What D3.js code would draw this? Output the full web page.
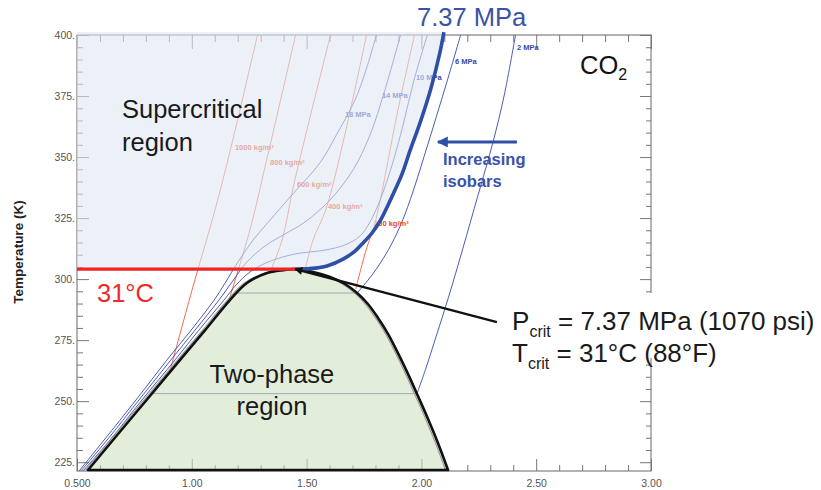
<!DOCTYPE html>
<html>
<head>
<meta charset="utf-8">
<script src="https://cdn.jsdelivr.net/npm/d3@7"></script>
<style>
  html, body { margin: 0; padding: 0; background: #fff; }
  svg { display: block; font-family: "Liberation Sans", Arial, sans-serif; }
</style>
</head>
<body>
<svg id="chart" width="821" height="490"></svg>
<script>
// CO2 temperature–entropy diagram: entropy s (kJ/kg·K) on x, temperature T (K) on y

// ---- axis ticks ----
const xTicksMajor = [0.5, 1.0, 1.5, 2.0, 2.5, 3.0];
const xTickLabels = ["0.500", "1.00", "1.50", "2.00", "2.50", "3.00"];
const yTicksMajor = [225, 250, 275, 300, 325, 350, 375, 400];
const yTickLabels = ["225.", "250.", "275.", "300.", "325.", "350.", "375.", "400."];

// ---- critical point [s, T] ----
const critPoint = [1.45, 304.1];

// ---- saturation dome [s, T] ----
const domeLiquid = [[0.548, 221.8], [0.657, 234.1], [0.803, 250.5], [0.949, 266.9], [1.058, 279.1],
                    [1.166, 291.4], [1.240, 298.4], [1.328, 302.5], [1.397, 303.7]];
const domeVapor = [[1.528, 302.9], [1.602, 300.9], [1.667, 298.0], [1.720, 294.3], [1.767, 289.8],
                   [1.811, 284.1], [1.855, 277.5], [1.898, 269.7], [1.942, 261.1], [1.985, 252.1],
                   [2.029, 242.7], [2.072, 232.9], [2.116, 221.8]];

// ---- isobars [s, T] ----
const isobar737 = [[1.45, 304.1], [1.515, 304.3], [1.589, 305.4], [1.659, 308.2], [1.711, 311.5],
                   [1.746, 314.8], [1.785, 318.9], [1.820, 323.8], [1.855, 330.4], [1.885, 336.5],
                   [1.916, 343.1], [1.950, 352.5], [1.994, 364.0], [2.042, 378.3], [2.081, 393.0],
                   [2.098, 401.2]];
const isobar2TwoPhase = [[0.824, 253.1], [1.981, 253.1]];
const isobar2 = [[1.981, 253.1], [2.020, 263.6], [2.059, 275.0], [2.098, 286.5], [2.138, 298.8],
                 [2.181, 312.7], [2.247, 334.5], [2.312, 356.2], [2.360, 375.0], [2.410, 400]];
const isobar6TwoPhase = [[1.197, 294.3], [1.720, 294.3]];
const isobar6 = [[1.720, 294.3], [1.750, 297.6], [1.785, 301.7], [1.824, 307.0], [1.868, 314.0],
                 [1.915, 323.4], [1.963, 335.7], [2.007, 348.8], [2.050, 361.9], [2.107, 379.5],
                 [2.171, 400]];
const isobar10 = [[2.026, 400], [1.968, 381.6], [1.920, 363.1], [1.872, 346.7], [1.820, 332.4],
                  [1.776, 323.4], [1.733, 317.7], [1.667, 314.0], [1.580, 311.9], [1.450, 310.3],
                  [1.332, 307.0], [1.253, 302.9], [1.193, 297.6], [1.140, 291.4], [1.031, 279.1],
                  [0.927, 266.9], [0.783, 250.5], [0.644, 234.1], [0.526, 221.4]];
const isobar14 = [[1.909, 400], [1.841, 377.5], [1.776, 359.0], [1.702, 344.7], [1.602, 332.4],
                  [1.493, 323.4], [1.406, 318.5], [1.319, 313.6], [1.240, 307.0], [1.175, 298.8],
                  [1.118, 291.4], [1.014, 279.1], [0.909, 266.9], [0.770, 250.5], [0.631, 234.1],
                  [0.517, 221.4]];
const isobar18 = [[1.804, 400], [1.759, 385.7], [1.711, 373.4], [1.637, 360.3], [1.558, 347.6],
                  [1.436, 334.5], [1.341, 324.2], [1.267, 316.0], [1.201, 307.0], [1.145, 298.4],
                  [1.097, 291.4], [0.997, 279.1], [0.892, 266.9], [0.757, 250.5], [0.618, 234.1],
                  [0.509, 221.4]];
const isobarLabels = ["2 MPa", "6 MPa", "10 MPa", "14 MPa", "18 MPa"];
const isobarLabelAt = [[2.416, 393.9], [2.146, 388.1], [1.976, 381.6], [1.828, 374.2], [1.667, 366.4]];

// ---- isochores [s, T] ----
const isochore1000 = [[1.286, 400], [1.171, 354.1], [1.101, 328.3], [1.001, 295.5], [0.904, 262.0]];
const isochore800 = [[1.452, 400], [1.323, 347.6], [1.253, 320.1], [1.162, 291.4]];
const isochore600 = [[1.604, 400], [1.445, 339.0], [1.393, 316.0], [1.341, 302.9]];
const isochore400 = [[1.761, 400], [1.589, 330.0], [1.528, 316.0], [1.493, 303.7]];
const isochore200 = [[1.970, 400], [1.898, 369.3], [1.798, 323.0], [1.759, 311.9], [1.714, 296.0]];
const isochoreLabels = ["1000 kg/m³", "800 kg/m³", "600 kg/m³", "400 kg/m³", "200 kg/m³"];
const isochoreLabelAt = [[1.188, 352.9], [1.341, 346.7], [1.458, 337.7], [1.593, 328.7], [1.794, 321.8]];

// ---- annotation anchors [s, T] ----
const pointerStart = [2.329, 282.4];
const isobarArrow = [[2.416, 356.2], [2.072, 356.2]];

// ================= drawing =================
const svg = d3.select("#chart");
const sMin = 0.5, sMax = 3.0, tMin = 221.4, tMax = 400;
const x = d3.scaleLinear().domain([sMin, sMax]).range([77, 651]);
const y = d3.scaleLinear().domain([tMin, tMax]).range([471, 35]);

const smooth = d3.line().x(d => x(d[0])).y(d => y(d[1])).curve(d3.curveCatmullRom.alpha(0.5));
const straight = d3.line().x(d => x(d[0])).y(d => y(d[1]));

const defs = svg.append("defs");
defs.append("marker").attr("id", "headBlack")
  .attr("viewBox", "0 0 10 10").attr("refX", 9).attr("refY", 5)
  .attr("markerWidth", 11).attr("markerHeight", 8)
  .attr("markerUnits", "userSpaceOnUse").attr("orient", "auto")
  .append("path").attr("d", "M0,0L10,5L0,10z").attr("fill", "#111");
defs.append("marker").attr("id", "headBlue")
  .attr("viewBox", "0 0 10 10").attr("refX", 9).attr("refY", 5)
  .attr("markerWidth", 13).attr("markerHeight", 11)
  .attr("markerUnits", "userSpaceOnUse").attr("orient", "auto")
  .append("path").attr("d", "M0,0L10,5L0,10z").attr("fill", "#2f4fa6");

// ---- frame and ticks ----
svg.append("rect")
  .attr("x", x(sMin)).attr("y", y(tMax))
  .attr("width", x(sMax) - x(sMin)).attr("height", y(tMin) - y(tMax))
  .attr("fill", "none").attr("stroke", "#666").attr("stroke-width", 1);

const xMinor = d3.range(6, 30).filter(i => i % 5 !== 0).map(i => i / 10);
const yMinor = d3.range(225, 401, 5).filter(v => v % 25 !== 0);

function styleAxis(g) {
  g.select(".domain").remove();
  g.selectAll("line").attr("stroke", "#777");
  g.selectAll("text").attr("fill", "#555")
    .style("font-size", "10.5px").style("font-family", '"Liberation Sans", Arial, sans-serif');
}
function addAxis(axis, transform) {
  svg.append("g").attr("transform", transform).call(axis).call(styleAxis);
}
const bottomT = `translate(0,${y(tMin)})`, topT = `translate(0,${y(tMax)})`;
const leftT = `translate(${x(sMin)},0)`, rightT = `translate(${x(sMax)},0)`;

addAxis(d3.axisBottom(x).tickValues(xMinor).tickSize(-6).tickFormat(""), bottomT);
addAxis(d3.axisBottom(x).tickValues(xTicksMajor).tickSize(-12).tickPadding(9)
  .tickFormat((d, i) => xTickLabels[i]), bottomT);
addAxis(d3.axisTop(x).tickValues(xMinor).tickSize(-7).tickFormat(""), topT);
addAxis(d3.axisTop(x).tickValues(xTicksMajor).tickSize(-14).tickFormat(""), topT);
addAxis(d3.axisLeft(y).tickValues(yMinor).tickSize(-6).tickFormat(""), leftT);
addAxis(d3.axisLeft(y).tickValues(yTicksMajor).tickSize(-12).tickPadding(2)
  .tickFormat((d, i) => yTickLabels[i]), leftT);
addAxis(d3.axisRight(y).tickValues(yMinor).tickSize(-5).tickFormat(""), rightT);
addAxis(d3.axisRight(y).tickValues(yTicksMajor).tickSize(-11).tickFormat(""), rightT);

svg.append("text")
  .attr("transform", `translate(23,${(y(tMin) + y(tMax)) / 2 - 1}) rotate(-90)`)
  .attr("text-anchor", "middle").attr("font-weight", "bold").attr("font-size", 13.5)
  .attr("fill", "#222").text("Temperature (K)");

// ---- isochores (red) ----
const gIso = svg.append("g").attr("fill", "none");
[isochore1000, isochore800, isochore600, isochore400, isochore200].forEach(pts => {
  gIso.append("path").attr("d", smooth(pts)).attr("stroke", "#ef5430").attr("stroke-width", 0.85);
});
// ---- isobars (blue) ----
[isobar2TwoPhase, isobar6TwoPhase].forEach(pts => {
  gIso.append("path").attr("d", straight(pts)).attr("stroke", "#3849ab").attr("stroke-width", 0.9);
});
[isobar2, isobar6, isobar10, isobar14, isobar18].forEach(pts => {
  gIso.append("path").attr("d", smooth(pts)).attr("stroke", "#3849ab").attr("stroke-width", 0.9);
});

const gLab = svg.append("g").attr("font-weight", "bold").attr("font-size", 7.5);
isochoreLabels.forEach((t, i) => {
  gLab.append("text").attr("x", x(isochoreLabelAt[i][0])).attr("y", y(isochoreLabelAt[i][1]))
    .attr("fill", "#ea4a22").text(t);
});
isobarLabels.forEach((t, i) => {
  gLab.append("text").attr("x", x(isobarLabelAt[i][0])).attr("y", y(isobarLabelAt[i][1]))
    .attr("fill", "#3849ab").text(t);
});

// ---- supercritical region (translucent wash over the grid) ----
const scTop = 401.2;
const scPath = smooth(isobar737) +
  `L${x(sMin)},${y(scTop)}L${x(sMin)},${y(critPoint[1])}Z`;
svg.append("path").attr("d", scPath).attr("fill", "#dfe8f3").attr("fill-opacity", 0.6);

// ---- two-phase dome ----
const domePts = domeLiquid.concat([critPoint], domeVapor);
const domePath = smooth(domePts) + "Z";
svg.append("path").attr("d", domePath).attr("fill", "#cfe3c1").attr("fill-opacity", 0.6);
svg.append("path").attr("d", domePath).attr("fill", "none")
  .attr("stroke", "#9a9a9a").attr("stroke-width", 1.1).attr("transform", "translate(-2.5,0)");
svg.append("path").attr("d", domePath).attr("fill", "none")
  .attr("stroke", "#111").attr("stroke-width", 2.6).attr("stroke-linejoin", "round");

// ---- critical isotherm 31 °C ----
svg.append("path").attr("d", straight([[sMin, critPoint[1]], critPoint]))
  .attr("stroke", "#f02424").attr("stroke-width", 3.2).attr("fill", "none");

// ---- critical isobar 7.37 MPa ----
svg.append("path").attr("d", smooth(isobar737)).attr("fill", "none")
  .attr("stroke", "#2f4fa6").attr("stroke-width", 3.6).attr("stroke-linecap", "butt");

// ---- pointer to the critical point ----
svg.append("path").attr("d", straight([pointerStart, critPoint]))
  .attr("stroke", "#111").attr("stroke-width", 2.4).attr("fill", "none")
  .attr("marker-end", "url(#headBlack)");

// ---- "increasing isobars" arrow ----
svg.append("path").attr("d", straight(isobarArrow))
  .attr("stroke", "#2f4fa6").attr("stroke-width", 3).attr("fill", "none")
  .attr("marker-end", "url(#headBlue)");

// ---- region and value labels ----
const big = svg.append("g").attr("font-size", 25.5).attr("fill", "#1a1a1a");
big.append("text").attr("x", x(0.696)).attr("y", y(366.0)).text("Supercritical");
big.append("text").attr("x", x(0.696)).attr("y", y(352.5)).text("region");
big.append("text").attr("x", x(1.349)).attr("y", y(257.4)).attr("text-anchor", "middle").text("Two-phase");
big.append("text").attr("x", x(1.349)).attr("y", y(244.3)).attr("text-anchor", "middle").text("region");
big.append("text").attr("x", x(0.587)).attr("y", y(290.6)).attr("fill", "#ee2a2a").text("31°C");
big.append("text").attr("x", x(1.981)).attr("y", y(403.7)).attr("fill", "#3a52a8").text("7.37 MPa");
const co2 = big.append("text").attr("x", x(2.691)).attr("y", y(384.0)).attr("fill", "#111");
co2.append("tspan").text("CO");
co2.append("tspan").attr("font-size", 16).attr("dy", 6).text("2");

const inc = svg.append("g").attr("font-size", 16.5).attr("font-weight", "bold").attr("fill", "#3a52a8");
inc.append("text").attr("x", x(2.094)).attr("y", y(346.7)).text("Increasing");
inc.append("text").attr("x", x(2.094)).attr("y", y(337.7)).text("isobars");

// ---- critical-point values box ----
svg.append("rect")
  .attr("x", x(2.355)).attr("y", y(294.3))
  .attr("width", 821 - x(2.355)).attr("height", y(267.7) - y(294.3))
  .attr("fill", "#fff");
const crit = svg.append("g").attr("font-size", 26).attr("fill", "#1a1a1a");
const p1 = crit.append("text").attr("x", x(2.395)).attr("y", y(279.1));
p1.append("tspan").text("P");
p1.append("tspan").attr("font-size", 16).attr("dy", 7).text("crit");
p1.append("tspan").attr("dy", -7).text(" = 7.37 MPa (1070 psi)");
const p2 = crit.append("text").attr("x", x(2.395)).attr("y", y(266.0));
p2.append("tspan").text("T");
p2.append("tspan").attr("font-size", 16).attr("dy", 7).text("crit");
p2.append("tspan").attr("dy", -7).text(" = 31°C (88°F)");
</script>
</body>
</html>
